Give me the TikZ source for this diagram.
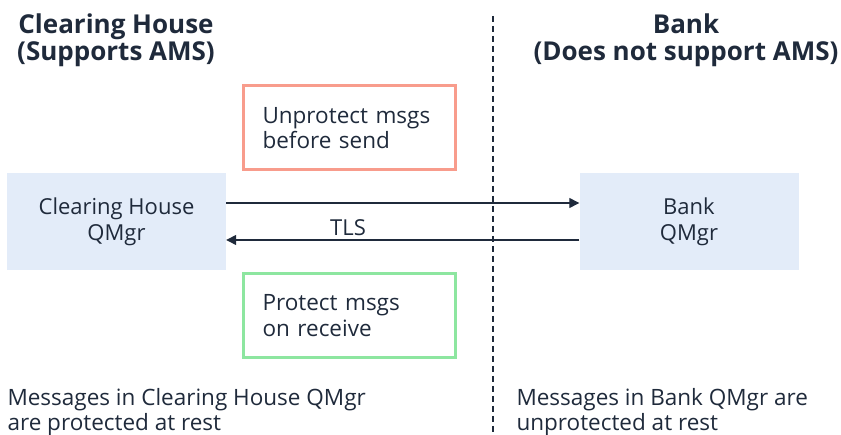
\documentclass[tikz,border=0pt]{standalone}
\usepackage{fontspec}
\setmainfont{Open Sans}
\usetikzlibrary{arrows.meta}

\definecolor{ink}{HTML}{1F2A3B}
\definecolor{qfill}{HTML}{E3ECF9}
\definecolor{redline}{HTML}{F89C8C}
\definecolor{greenline}{HTML}{8DE6A0}

\tikzset{
  qmgr/.style={fill=qfill, draw=none, minimum width=219pt, minimum height=97pt,
    align=center, text=ink, font=\fontsize{22}{26}\selectfont},
  action/.style={draw=#1, line width=3pt, minimum width=212pt, minimum height=84pt,
    align=left, text=ink, font=\fontsize{22.5}{25.5}\selectfont, text width=174pt},
  title/.style={align=center, text=ink, font=\fontsize{26}{27}\bfseries\selectfont},
  note/.style={align=left, text=ink, anchor=west, font=\fontsize{22.5}{24.5}\selectfont},
  flow/.style={draw=ink, line width=1.3pt, -{Triangle[length=10pt,width=10pt]}}
}

\begin{document}
\begin{tikzpicture}[x=1pt,y=-1pt]
\useasboundingbox (0,0) rectangle (841,435);

% headings
\node[title] (chtitle) at (116,40) {Clearing House\\(Supports AMS)};
\node[title] (banktitle) at (686,40) {Bank\\(Does not support AMS)};

% divider
\coordinate (divtop) at (493,16);
\coordinate (divbot) at (493,435);
\draw[ink, line width=1.2pt, dash pattern=on 6pt off 4pt] (divtop) -- (divbot);

% queue managers
\node[qmgr] (chq) at (116.5,221.5) {Clearing House\\QMgr};
\node[qmgr] (bankq) at (689,221.5) {Bank\\QMgr};

% AMS actions
\node[action=redline] (unprot) at (349.5,128) {Unprotect msgs\\before send};
\node[action=greenline] (prot) at (349.5,315.5) {Protect msgs\\on receive};

% channels
\draw[flow] ([yshift=18.5pt]chq.east) -- ([yshift=18.5pt]bankq.west);
\draw[flow] ([yshift=-18.5pt]bankq.west) -- ([yshift=-18.5pt]chq.east)
  node[pos=0.655, above=0pt, text=ink, font=\fontsize{22}{26}\selectfont] (tls) {TLS};

% at rest
\node[note] (chnote) at (4,412) {Messages in Clearing House QMgr\\are protected at rest};
\node[note] (banknote) at (513,412) {Messages in Bank QMgr are\\unprotected at rest};
\end{tikzpicture}
\end{document}
